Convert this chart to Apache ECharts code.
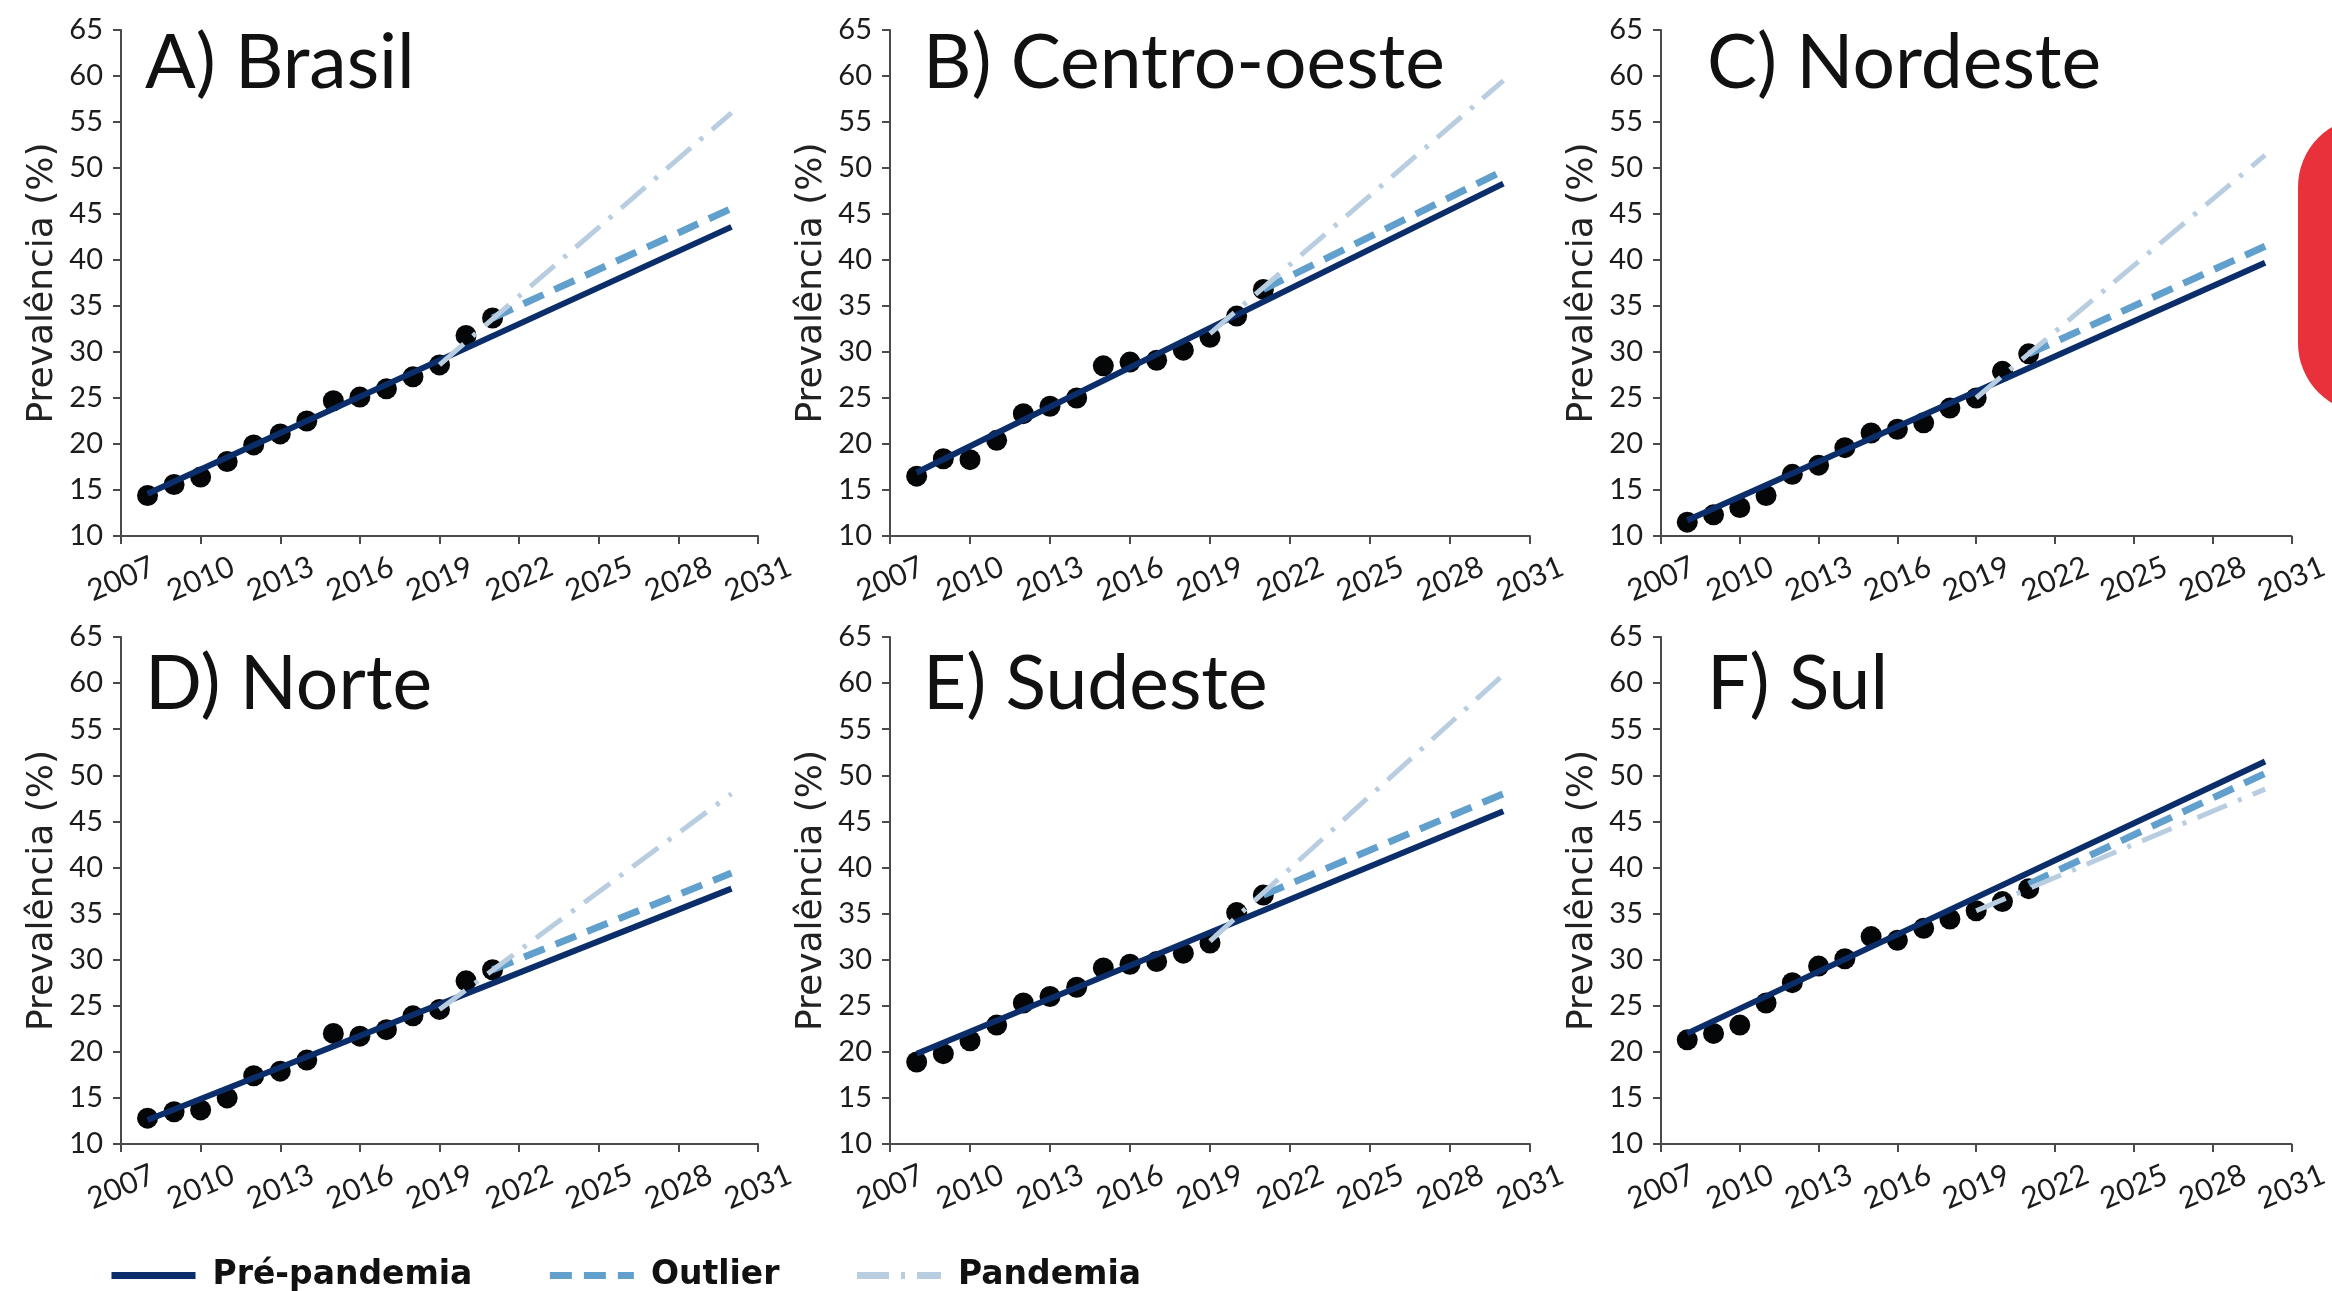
<!DOCTYPE html>
<html>
<head>
<meta charset="utf-8">
<script src="https://cdn.jsdelivr.net/npm/echarts@6/dist/echarts.min.js"></script>
<style>
html,body{margin:0;padding:0;background:#fff;}
#chart{width:2332px;height:1291px;}
</style>
</head>
<body>
<div id="chart"></div>
<script>
// ---- data ----
const years = [2008, 2009, 2010, 2011, 2012, 2013, 2014, 2015, 2016, 2017, 2018, 2019, 2020, 2021];
const panelTitles = ['A) Brasil', 'B) Centro-oeste', 'C) Nordeste', 'D) Norte', 'E) Sudeste', 'F) Sul'];
const seriesNames = ['Pré-pandemia', 'Outlier', 'Pandemia'];

const brasil      = [14.4, 15.6, 16.4, 18.1, 19.9, 21.1, 22.5, 24.7, 25.1, 26.0, 27.3, 28.6, 31.8, 33.7];
const centroOeste = [16.5, 18.4, 18.3, 20.4, 23.3, 24.1, 25.0, 28.5, 28.9, 29.1, 30.2, 31.6, 33.9, 36.8];
const nordeste    = [11.5, 12.3, 13.1, 14.4, 16.7, 17.7, 19.6, 21.2, 21.6, 22.3, 23.9, 25.0, 27.9, 29.8];
const norte       = [12.8, 13.5, 13.7, 15.0, 17.4, 17.9, 19.1, 22.0, 21.7, 22.4, 23.9, 24.6, 27.7, 28.9];
const sudeste     = [18.9, 19.8, 21.2, 22.9, 25.3, 26.0, 27.0, 29.1, 29.5, 29.8, 30.7, 31.8, 35.1, 37.0];
const sul         = [21.3, 22.0, 22.9, 25.3, 27.5, 29.3, 30.1, 32.5, 32.1, 33.4, 34.4, 35.3, 36.3, 37.7];

// trend lines: [start, end] values
const preYears = [2008, 2030];
const outlierYears = [2021, 2030];
const pandemiaYears = [2019, 2030];

const brasilPre = [14.6, 43.6],      brasilOutlier = [33.7, 45.6],      brasilPandemia = [28.6, 56.0];
const centroPre = [16.9, 48.3],      centroOutlier = [36.8, 49.7],      centroPandemia = [32.0, 59.5];
const nordestePre = [11.7, 39.7],    nordesteOutlier = [29.8, 41.5],    nordestePandemia = [25.0, 51.4];
const nortePre = [12.6, 37.7],       norteOutlier = [28.9, 39.4],       nortePandemia = [24.6, 48.0];
const sudestePre = [19.8, 46.1],     sudesteOutlier = [37.0, 48.0],     sudestePandemia = [32.0, 60.9];
const sulPre = [22.0, 51.5],         sulOutlier = [38.2, 50.2],         sulPandemia = [35.3, 48.5];

const observed = [brasil, centroOeste, nordeste, norte, sudeste, sul];
const preLines = [brasilPre, centroPre, nordestePre, nortePre, sudestePre, sulPre];
const outlierLines = [brasilOutlier, centroOutlier, nordesteOutlier, norteOutlier, sudesteOutlier, sulOutlier];
const pandemiaLines = [brasilPandemia, centroPandemia, nordestePandemia, nortePandemia, sudestePandemia, sulPandemia];

// ---- layout / style ----
const gridPos = [
  {left: 121, top: 30, width: 637, height: 506},
  {left: 890, top: 30, width: 640, height: 506},
  {left: 1661, top: 30, width: 637, height: 506},
  {left: 121, top: 637, width: 637, height: 507},
  {left: 890, top: 637, width: 640, height: 507},
  {left: 1661, top: 637, width: 637, height: 507}
];
const titlePos = [
  {left: 140, top: 21}, {left: 918, top: 21}, {left: 1702, top: 21},
  {left: 140, top: 642}, {left: 918, top: 642}, {left: 1702, top: 642}
];
const NAVY = '#0b2d69', MID = '#619fcc', LIGHT = '#b8cde0', DOT = '#050608', AX = '#4a4a4a';
const tickFont = 'Lato';

const pairs = (xs, vs) => xs.map((x, k) => [x, vs[k]]);

const grids = [], xAxes = [], yAxes = [], series = [], titles = [];
for (let i = 0; i < 6; i++) {
  grids.push(Object.assign({containLabel: false}, gridPos[i]));
  titles.push({
    text: panelTitles[i], left: titlePos[i].left, top: titlePos[i].top,
    textStyle: {fontFamily: 'Lato', fontSize: 75, fontWeight: 'normal', color: '#111'}
  });
  xAxes.push({
    type: 'value', gridIndex: i, min: 2007, max: 2031, interval: 3,
    axisLine: {show: true, lineStyle: {color: AX, width: 2}},
    axisTick: {show: true, inside: false, length: 8, lineStyle: {color: AX, width: 2}},
    splitLine: {show: false},
    axisLabel: {
      rotate: 23, fontFamily: tickFont, fontSize: 30, color: '#1c1c1c',
      align: 'center', verticalAlign: 'middle', margin: 43,
      formatter: v => String(v)
    }
  });
  yAxes.push({
    type: 'value', gridIndex: i, min: 10, max: 65, interval: 5,
    axisLine: {show: true, lineStyle: {color: AX, width: 2}},
    axisTick: {show: true, inside: false, length: 8, lineStyle: {color: AX, width: 2}},
    splitLine: {show: false},
    axisLabel: {fontFamily: tickFont, fontSize: 29, color: '#1c1c1c', margin: 18},
    name: 'Prevalência (%)', nameLocation: 'middle', nameGap: 60,
    nameTextStyle: {fontFamily: 'DejaVu Sans', fontSize: 36, color: '#222'}
  });
  series.push({
    type: 'scatter', name: 'Observado', xAxisIndex: i, yAxisIndex: i,
    data: pairs(years, observed[i]), symbolSize: 21,
    itemStyle: {color: DOT, opacity: 1}, z: 2, silent: true
  });
  series.push({
    type: 'line', name: seriesNames[0], xAxisIndex: i, yAxisIndex: i,
    data: pairs(preYears, preLines[i]), symbol: 'none', color: NAVY,
    lineStyle: {color: NAVY, width: 6}, z: 3, silent: true
  });
  series.push({
    type: 'line', name: seriesNames[1], xAxisIndex: i, yAxisIndex: i,
    data: pairs(outlierYears, outlierLines[i]), symbol: 'none', color: MID,
    lineStyle: {color: MID, width: 7, type: [22, 12]}, z: 4, silent: true
  });
  series.push({
    type: 'line', name: seriesNames[2], xAxisIndex: i, yAxisIndex: i,
    data: pairs(pandemiaYears, pandemiaLines[i]), symbol: 'none', color: LIGHT,
    lineStyle: {color: LIGHT, width: 5, type: [32, 12, 4, 12]}, z: 5, silent: true
  });
}

const chart = echarts.init(document.getElementById('chart'), null, {renderer: 'canvas'});
chart.setOption({
  backgroundColor: '#ffffff',
  animation: false,
  title: titles,
  grid: grids,
  xAxis: xAxes,
  yAxis: yAxes,
  legend: {
    data: seriesNames, left: 103, top: 1254, orient: 'horizontal',
    itemWidth: 84, itemHeight: 36, itemGap: 74,
    itemStyle: {opacity: 0, borderWidth: 0},
    lineStyle: {width: 7},
    textStyle: {fontFamily: 'DejaVu Sans', fontWeight: 'bold', fontSize: 33, color: '#111', padding: [0, 0, 0, 12]}
  },
  graphic: [{
    type: 'rect', x: 2298, y: 117,
    shape: {x: 0, y: 0, width: 120, height: 296, r: [70, 0, 0, 70]},
    style: {fill: '#e8313a'}, silent: true
  }],
  series: series
});
</script>
</body>
</html>
